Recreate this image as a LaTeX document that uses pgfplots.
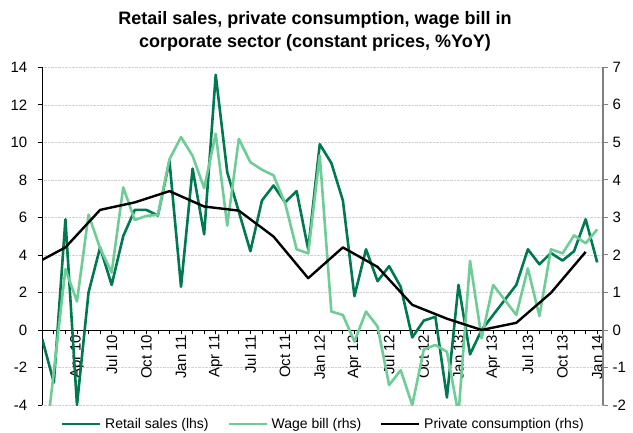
\documentclass[border=0pt]{standalone}
\usepackage{fontspec}
\setmainfont{Liberation Sans}
\usepackage{pgfplots}
\usepackage{pgfplotstable}
\pgfplotsset{compat=1.18}
\definecolor{dkgreen}{RGB}{0,120,80}
\definecolor{ltgreen}{RGB}{110,205,150}
\definecolor{axgray}{RGB}{128,128,128}

\pgfplotstableread{
i retail wage
0 -0.5 -3.8
1 -2.8 -1.1
2 5.9 1.62
3 -4.0 0.76
4 2.0 3.07
5 4.4 2.18
6 2.4 1.53
7 5.0 3.8
8 6.4 2.93
9 6.4 3.04
10 6.1 3.07
11 9.0 4.55
12 2.3 5.14
13 8.6 4.64
14 5.1 3.78
15 13.6 5.23
16 8.4 2.78
17 6.3 5.09
18 4.2 4.47
19 6.9 4.27
20 7.7 4.12
21 6.8 3.38
22 7.4 2.15
23 4.3 2.04
24 9.9 4.65
25 8.9 0.49
26 6.9 0.40
27 1.8 -0.31
28 4.3 0.49
29 2.6 0.09
30 3.4 -1.47
31 2.3 -1.07
32 -0.4 -2.0
33 0.5 -0.52
34 0.7 -0.40
35 -3.6 -0.58
36 2.4 -2.25
37 -1.3 1.84
38 0.0 -0.22
39 0.8 1.2
40 1.6 0.8
41 2.4 0.4
42 4.3 1.64
43 3.5 0.37
44 4.1 2.15
45 3.7 2.04
46 4.2 2.52
47 5.9 2.31
48 3.6 2.68
}\monthly

\pgfplotstableread{
i priv
0 1.87
2 2.2
5 3.2
8 3.4
11 3.7
14 3.29
17 3.18
20 2.49
23 1.38
26 2.2
29 1.68
32 0.67
35 0.3
38 0.0
41 0.19
44 0.99
47 2.08
}\quarterly

\begin{document}
\begin{tikzpicture}
\useasboundingbox (-42.3pt,-27pt) rectangle (590.7pt,405pt);
\begin{axis}[
  at={(0pt,0pt)}, anchor=south west,
  scale only axis, width=560.7pt, height=337.7pt,
  xmin=0, xmax=48.5, ymin=-4, ymax=14,
  axis x line*=middle, axis y line*=left,
  axis line style={black, line width=0.9pt, -},
  tick align=outside,
  major tick length=4.5pt, minor tick length=4.5pt,
  tick style={black, line width=0.8pt},
  xtick={0,3,...,48},
  xticklabels={Jan 10,Apr 10,Jul 10,Oct 10,Jan 11,Apr 11,Jul 11,Oct 11,Jan 12,Apr 12,Jul 12,Oct 12,Jan 13,Apr 13,Jul 13,Oct 13,Jan 14},
  minor xtick={0,...,48},
  xticklabel style={rotate=90, anchor=east, inner sep=0pt, font=\fontsize{15}{18}\selectfont},
  ytick={-4,-2,...,14},
  yticklabel style={font=\fontsize{15}{18}\selectfont, xshift=-7pt},
  /pgf/number format/assume math mode=true,
  ymajorgrids, grid style={densely dotted, black!18, line width=0.6pt},
  clip=true,
]
\addplot[dkgreen, line width=2.6pt, line join=round] table[x=i, y=retail] {\monthly};
\end{axis}
\begin{axis}[
  at={(0pt,0pt)}, anchor=south west,
  scale only axis, width=560.7pt, height=337.7pt,
  xmin=0, xmax=48.5, ymin=-2, ymax=7,
  axis x line=none, axis y line*=right,
  axis line style={axgray, line width=1.2pt, -},
  tick align=outside, major tick length=5pt,
  ytick style={axgray, line width=0.9pt},
  ytick={-2,-1,...,7},
  yticklabel style={font=\fontsize{15}{18}\selectfont, xshift=1pt},
  /pgf/number format/assume math mode=true,
  legend columns=3,
  legend style={at={(0.033,-0.0563)}, anchor=west, draw=none, fill=none,
    inner xsep=0pt, inner ysep=0pt, font=\fontsize{14}{16}\selectfont,
    nodes={inner xsep=3.8pt, inner ysep=1pt},
    /tikz/every even column/.append style={column sep=15pt}},
  legend image code/.code={\draw[#1] (0pt,0pt) -- (37.8pt,0pt);},
]
\addlegendimage{dkgreen, line width=2.6pt}
\addlegendentry{Retail sales (lhs)}
\addplot[ltgreen, line width=2.6pt, line join=round] table[x=i, y=wage] {\monthly};
\addlegendentry{Wage bill (rhs)}
\addplot[black, line width=2.4pt, line join=round] table[x=i, y=priv] {\quarterly};
\addlegendentry{Private consumption (rhs)}
\end{axis}
\node[align=center, font=\bfseries\fontsize{18}{23}\selectfont] at (272.7pt,373.5pt) {Retail sales, private consumption, wage bill in\\corporate sector (constant prices, \%YoY)};
\end{tikzpicture}
\end{document}
